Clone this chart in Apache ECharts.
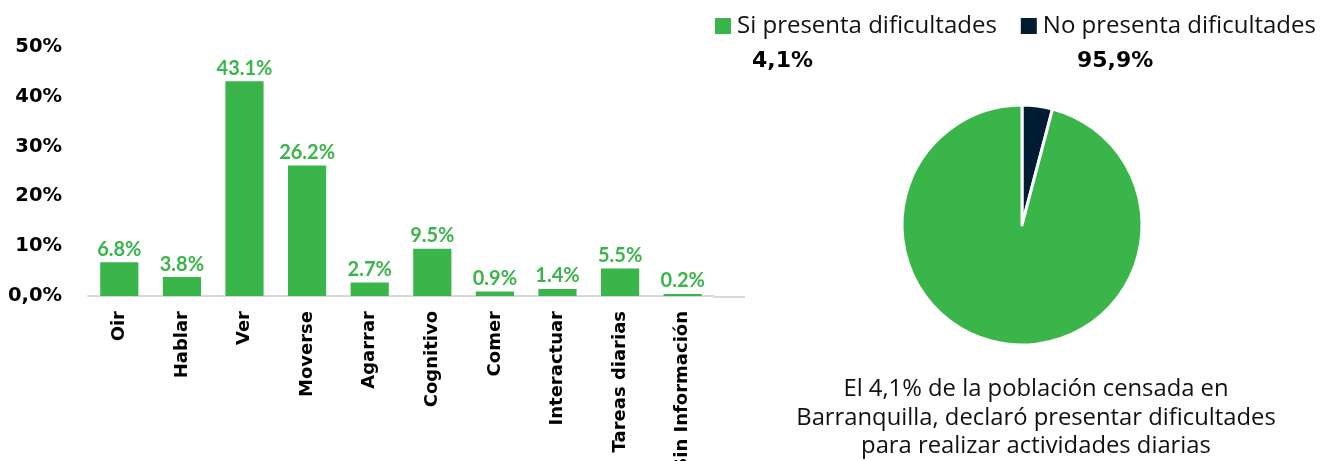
<!DOCTYPE html>
<html>
<head>
<meta charset="utf-8">
<script src="https://cdn.jsdelivr.net/npm/echarts@6/dist/echarts.min.js"></script>
<style>
  html, body { margin: 0; padding: 0; background: #fff; }
  #chart { width: 1325px; height: 461px; }
</style>
</head>
<body>
<div id="chart"></div>
<script>
// datos del gráfico de barras
const categorias = ['Oir', 'Hablar', 'Ver', 'Moverse', 'Agarrar', 'Cognitivo', 'Comer', 'Interactuar', 'Tareas diarias', 'Sin Información']
const porcentajes = [6.8, 3.8, 43.1, 26.2, 2.7, 9.5, 0.9, 1.4, 5.5, 0.2]

// datos del pie
const pieNombres = ['Si presenta dificultades', 'No presenta dificultades']
const pieValores = [4.1, 95.9]

const verde = '#3ab54a'
const oscuro = '#021d33'

const chart = echarts.init(document.getElementById('chart'))

const fmtComa = v => v.toFixed(1).replace('.', ',') + '%'

const option = {
  animation: false,
  title: {
    text: 'El ' + fmtComa(pieValores[0]) + ' de la población censada en\nBarranquilla, declaró presentar dificultades\npara realizar actividades diarias',
    left: 1031,
    top: 370,
    textAlign: 'center',
    textStyle: { fontFamily: 'Open Sans', fontWeight: 'normal', fontSize: 23.8, lineHeight: 28.5, color: '#111' }
  },
  legend: {
    top: 14,
    left: 713,
    width: 612,
    padding: 0,
    itemWidth: 18,
    itemHeight: 18,
    itemGap: 22,
    icon: 'rect',
    textStyle: { fontFamily: 'Open Sans', fontSize: 24, color: '#111' },
    // los colores de la leyenda siguen al original
    data: [
      { name: pieNombres[0], itemStyle: { color: verde } },
      { name: pieNombres[1], itemStyle: { color: oscuro } }
    ]
  },
  graphic: [
    {
      type: 'text', left: 752, top: 50,
      style: { text: fmtComa(pieValores[0]), font: 'bold 22px "DejaVu Sans"', fill: '#000' }
    },
    {
      type: 'text', left: 1077, top: 50,
      style: { text: fmtComa(pieValores[1]), font: 'bold 22px "DejaVu Sans"', fill: '#000' }
    },
    {
      // prolongación del eje x como en el original
      type: 'line', shape: { x1: 713, y1: 297, x2: 745, y2: 297 },
      style: { stroke: '#d9d9d9', lineWidth: 2 }
    }
  ],
  grid: { left: 88, right: 611, top: 47, bottom: 165, containLabel: false, outerBoundsMode: 'none' },
  xAxis: {
    type: 'category',
    data: categorias,
    axisLine: { lineStyle: { color: '#d9d9d9', width: 2 } },
    axisTick: { show: false },
    axisLabel: {
      rotate: 90,
      interval: 0,
      margin: 15,
      fontFamily: 'DejaVu Sans',
      fontWeight: 'bold',
      fontSize: 18,
      color: '#000'
    }
  },
  yAxis: {
    type: 'value',
    min: 0,
    max: 50,
    interval: 10,
    splitLine: { show: false },
    axisLine: { show: false },
    axisTick: { show: false },
    axisLabel: {
      margin: 26,
      fontFamily: 'DejaVu Sans',
      fontWeight: 'bold',
      fontSize: 19.5,
      color: '#000',
      formatter: v => v === 0 ? '0,0%' : v + '%'
    }
  },
  series: [
    {
      type: 'bar',
      data: porcentajes,
      barWidth: '61%',
      barMinHeight: 2,
      itemStyle: { color: verde },
      label: {
        show: true,
        position: 'top',
        distance: 3,
        fontFamily: 'Lato',
        fontWeight: 'bold',
        fontSize: 20,
        color: verde,
        formatter: p => p.value.toFixed(1) + '%'
      }
    },
    {
      type: 'pie',
      center: [1022, 225],
      radius: 120,
      startAngle: 90,
      clockwise: true,
      label: { show: false },
      labelLine: { show: false },
      itemStyle: { borderColor: '#fff', borderWidth: 3 },
      data: [
        { name: pieNombres[0], value: pieValores[0], itemStyle: { color: oscuro } },
        { name: pieNombres[1], value: pieValores[1], itemStyle: { color: verde } }
      ]
    }
  ]
}

chart.setOption(option)
</script>
</body>
</html>
